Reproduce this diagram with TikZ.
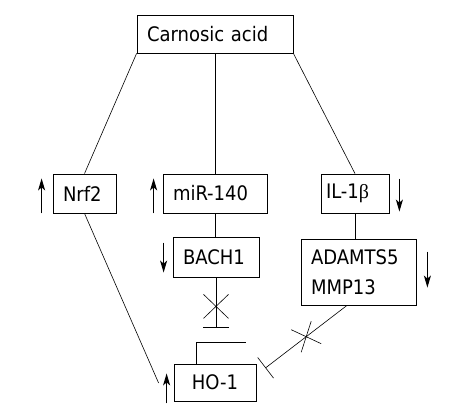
\documentclass[tikz,border=0pt]{standalone}
\usepackage{fontspec}
\setmainfont{DejaVu Sans Condensed}
\newfontfamily\betafont{Liberation Serif}
\usetikzlibrary{arrows.meta,calc}

\begin{document}
\begin{tikzpicture}
[x=1pt, y=-1pt, draw=black, line width=0.6pt, >={Stealth[length=12pt,width=7pt,inset=3pt]},
font=\fontsize{20}{30}\selectfont,
box/.style={rectangle, draw, line width=0.8pt, inner xsep=10pt, inner ysep=0pt, align=left},
updown/.style={->, line width=1.3pt},
block/.style={-{Bar[width=26pt]}}]

\useasboundingbox (0,0) rectangle (450,417);

\node[box, text width=136pt, minimum height=38pt] (carnosic) at (215,34) {Carnosic acid};

\node[box, text width=43pt, minimum height=39pt] (nrf) at (84.5,193.5) {Nrf2};
\node[box, text width=84pt, minimum height=39pt] (mir) at (215,193.5) {miR-140};
\node[box, text width=58pt, inner xsep=5pt, minimum height=39pt] (il) at (355,193.5) {IL-1{\betafont β}};

\node[box, text width=66pt, minimum height=40pt] (bach) at (216,257) {BACH1};
\node[box, text width=95pt, minimum height=66pt] (adamts) at (358.5,272) {ADAMTS5\\MMP13};

\node[box, text width=62pt, minimum height=37pt, align=center] (ho) at (215,382.5) {HO-1};

\draw (carnosic.south west) -- (nrf.north);
\draw (carnosic.south) -- (mir.north);
\draw (carnosic.south east) -- (il.north);
\draw (mir.south) -- (mir.south |- bach.north);
\draw (il.south) -- (il.south |- adamts.north);

\coordinate (nrfend) at ($(ho.west)+(-15,0.5)$);
\draw (nrf.south) -- (nrfend);

\coordinate (bachbar) at ($(bach.south)+(0,50)$);
\coordinate (bachx) at ($(bach.south)!0.58!(bachbar)$);
\draw[block] (bach.south) -- (bachbar);
\draw (bachx) +(-12.5,-12) -- +(12.5,12) (bachx) +(-12.5,12) -- +(12.5,-12);

\coordinate (adstart) at ($(adamts.south)+(-11.5,0)$);
\coordinate (adend) at ($(ho.east)+(9,-14.5)$);
\coordinate (adx) at ($(adstart)!0.5!(adend)$);
\draw[block] (adstart) -- (adend);
\draw (adx) +(-15,-7) -- +(15,7) (adx) +(5,-15.5) -- +(-5,15.5);

\coordinate (stub) at ($(ho.north)+(31,-21)$);
\draw ($(ho.north west)+(23,0)$) |- (stub);

\draw[updown] ($(nrf.south west)+(-11,0)$) -- ++(0,-35);
\draw[updown] ($(mir.south west)+(-9,0)$) -- ++(0,-35);
\draw[updown] ($(il.north east)+(10,5)$) -- ++(0,33);
\draw[updown] ($(bach.north west)+(-9,6)$) -- ++(0,30);
\draw[updown] ($(adamts.north east)+(11,13)$) -- ++(0,36);
\draw[updown] ($(ho.south west)+(-7,2)$) -- ++(0,-30);

\end{tikzpicture}
\end{document}
